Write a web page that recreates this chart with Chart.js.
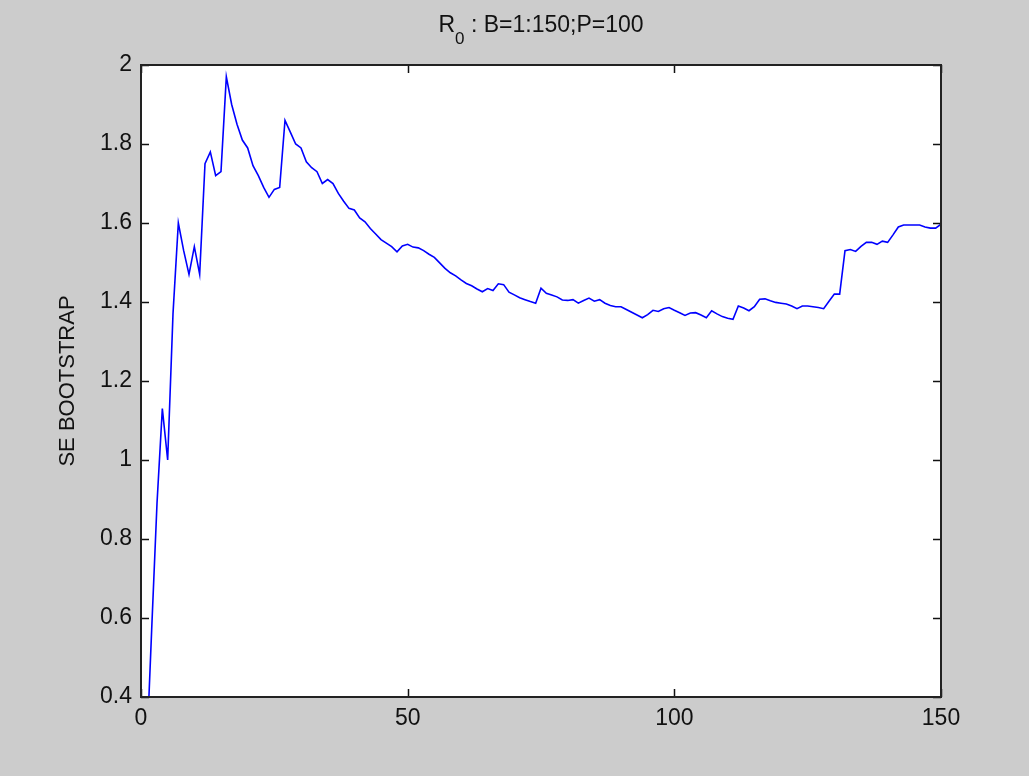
<!DOCTYPE html>
<html>
<head>
<meta charset="utf-8">
<script src="https://cdn.jsdelivr.net/npm/chart.js@4"></script>
<style>
    body { margin: 0; background: #cccccc; }
    #caja { width: 1029px; height: 776px; }
</style>
</head>
<body>
<div id="caja"><canvas id="grafico" width="1029" height="776"></canvas></div>
<script>
// B = 1:150 bootstrap replicas
const replicas = Array.from({ length: 150 }, (_, i) => i + 1);

// SE bootstrap values
const seBootstrap = [
    0.24, 0.57, 0.89, 1.13, 1.00, 1.37, 1.60, 1.53, 1.47, 1.54,
    1.47, 1.75, 1.78, 1.72, 1.73, 1.97, 1.90, 1.85, 1.81, 1.79,
    1.745, 1.72, 1.69, 1.665, 1.685, 1.69, 1.86, 1.83, 1.80, 1.79,
    1.755, 1.74, 1.73, 1.70, 1.71, 1.70, 1.675, 1.655, 1.637, 1.633,
    1.613, 1.603, 1.586, 1.572, 1.558, 1.549, 1.54, 1.527, 1.542, 1.546,
    1.539, 1.537, 1.53, 1.521, 1.513, 1.499, 1.485, 1.474, 1.466, 1.456,
    1.447, 1.441, 1.433, 1.426, 1.434, 1.429, 1.446, 1.444, 1.425, 1.418,
    1.411, 1.406, 1.401, 1.397, 1.435, 1.422, 1.418, 1.413, 1.405, 1.404,
    1.406, 1.397, 1.404, 1.41, 1.402, 1.406, 1.397, 1.391, 1.388, 1.388,
    1.381, 1.374, 1.367, 1.36, 1.368, 1.379, 1.376, 1.383, 1.386, 1.379,
    1.373, 1.366, 1.372, 1.373, 1.367, 1.36, 1.378, 1.37, 1.363, 1.359,
    1.356, 1.39, 1.385, 1.378, 1.388, 1.407, 1.408, 1.403, 1.399, 1.397,
    1.395, 1.39, 1.383, 1.39, 1.39, 1.388, 1.386, 1.383, 1.402, 1.42,
    1.42, 1.53, 1.533, 1.528, 1.541, 1.551, 1.551, 1.546, 1.554, 1.551,
    1.57, 1.59, 1.595, 1.595, 1.595, 1.595, 1.59, 1.587, 1.587, 1.597
];

const xTicks = [0, 50, 100, 150];
const yTicks = [0.4, 0.6, 0.8, 1, 1.2, 1.4, 1.6, 1.8, 2];

// title pieces: R, subscript 0, rest
const titulo = ['R', '0', ' : B=1:150;P=100'];

const fuente = "'Liberation Sans', Arial, sans-serif";

// marco negro y ticks hacia dentro, estilo matlab
const marco = {
    id: 'marco',
    afterDraw(chart) {
        const { ctx, chartArea: a, scales } = chart;
        const largo = 8;
        ctx.save();
        ctx.strokeStyle = '#111';
        ctx.lineWidth = 1.5;
        ctx.beginPath();
        scales.x.ticks.forEach(t => {
            const px = Math.round(scales.x.getPixelForValue(t.value)) + 0.5;
            ctx.moveTo(px, a.bottom); ctx.lineTo(px, a.bottom - largo);
            ctx.moveTo(px, a.top); ctx.lineTo(px, a.top + largo);
        });
        scales.y.ticks.forEach(t => {
            const py = Math.round(scales.y.getPixelForValue(t.value)) + 0.5;
            ctx.moveTo(a.left, py); ctx.lineTo(a.left + largo, py);
            ctx.moveTo(a.right, py); ctx.lineTo(a.right - largo, py);
        });
        ctx.stroke();
        ctx.lineWidth = 2;
        ctx.strokeStyle = '#222';
        ctx.strokeRect(a.left, a.top, a.right - a.left, a.bottom - a.top);

        // titulo con subindice, centrado sobre el area del grafico
        const fGrande = '23px ' + fuente;
        const fChica = '17px ' + fuente;
        ctx.fillStyle = '#111';
        ctx.textBaseline = 'alphabetic';
        ctx.textAlign = 'left';
        ctx.font = fGrande;
        const w0 = ctx.measureText(titulo[0]).width;
        const w2 = ctx.measureText(titulo[2]).width;
        ctx.font = fChica;
        const w1 = ctx.measureText(titulo[1]).width;
        let x = (a.left + a.right) / 2 - (w0 + w1 + w2) / 2;
        const base = 32;
        ctx.font = fGrande;
        ctx.fillText(titulo[0], x, base);
        x += w0;
        ctx.font = fChica;
        ctx.fillText(titulo[1], x, base + 12);
        x += w1;
        ctx.font = fGrande;
        ctx.fillText(titulo[2], x, base);
        ctx.restore();
    }
};

const fondo = {
    id: 'fondo',
    beforeDraw(chart) {
        const { ctx, chartArea: a } = chart;
        ctx.save();
        ctx.fillStyle = '#cccccc';
        ctx.fillRect(0, 0, chart.width, chart.height);
        ctx.fillStyle = '#ffffff';
        ctx.fillRect(a.left, a.top, a.right - a.left, a.bottom - a.top);
        ctx.restore();
    }
};

const ctx = document.getElementById('grafico').getContext('2d');
const myChart = new Chart(ctx, {
    type: 'line',
    data: {
        datasets: [{
            label: 'SE BOOTSTRAP',
            data: replicas.map((b, i) => ({ x: b, y: seBootstrap[i] })),
            borderColor: '#0000ff',
            borderWidth: 1.6,
            pointRadius: 0,
            tension: 0,
            fill: false
        }]
    },
    plugins: [fondo, marco],
    options: {
        responsive: false,
        animation: false,
        layout: { padding: { left: 0, right: 88, top: 65, bottom: 0 } },
        plugins: {
            legend: { display: false },
            tooltip: { enabled: false },
            title: { display: false }
        },
        scales: {
            x: {
                type: 'linear',
                min: 0,
                max: 150,
                grid: { display: false, drawTicks: false },
                border: { display: false },
                afterBuildTicks: s => { s.ticks = xTicks.map(v => ({ value: v })); },
                afterFit: s => { s.height = 79; },
                ticks: {
                    color: '#111',
                    padding: 8,
                    maxRotation: 0,
                    font: { family: fuente, size: 23 },
                    callback: v => String(v)
                }
            },
            y: {
                min: 0.4,
                max: 2,
                grid: { display: false, drawTicks: false },
                border: { display: false },
                afterBuildTicks: s => { s.ticks = yTicks.map(v => ({ value: v })); },
                afterFit: s => { s.width = 141; },
                ticks: {
                    color: '#111',
                    padding: 9,
                    font: { family: fuente, size: 23 },
                    callback: v => String(v)
                },
                title: {
                    display: true,
                    text: 'SE BOOTSTRAP',
                    color: '#111',
                    font: { family: fuente, size: 22 },
                    padding: { top: 55, bottom: 0 }
                }
            }
        }
    }
});
</script>
</body>
</html>
